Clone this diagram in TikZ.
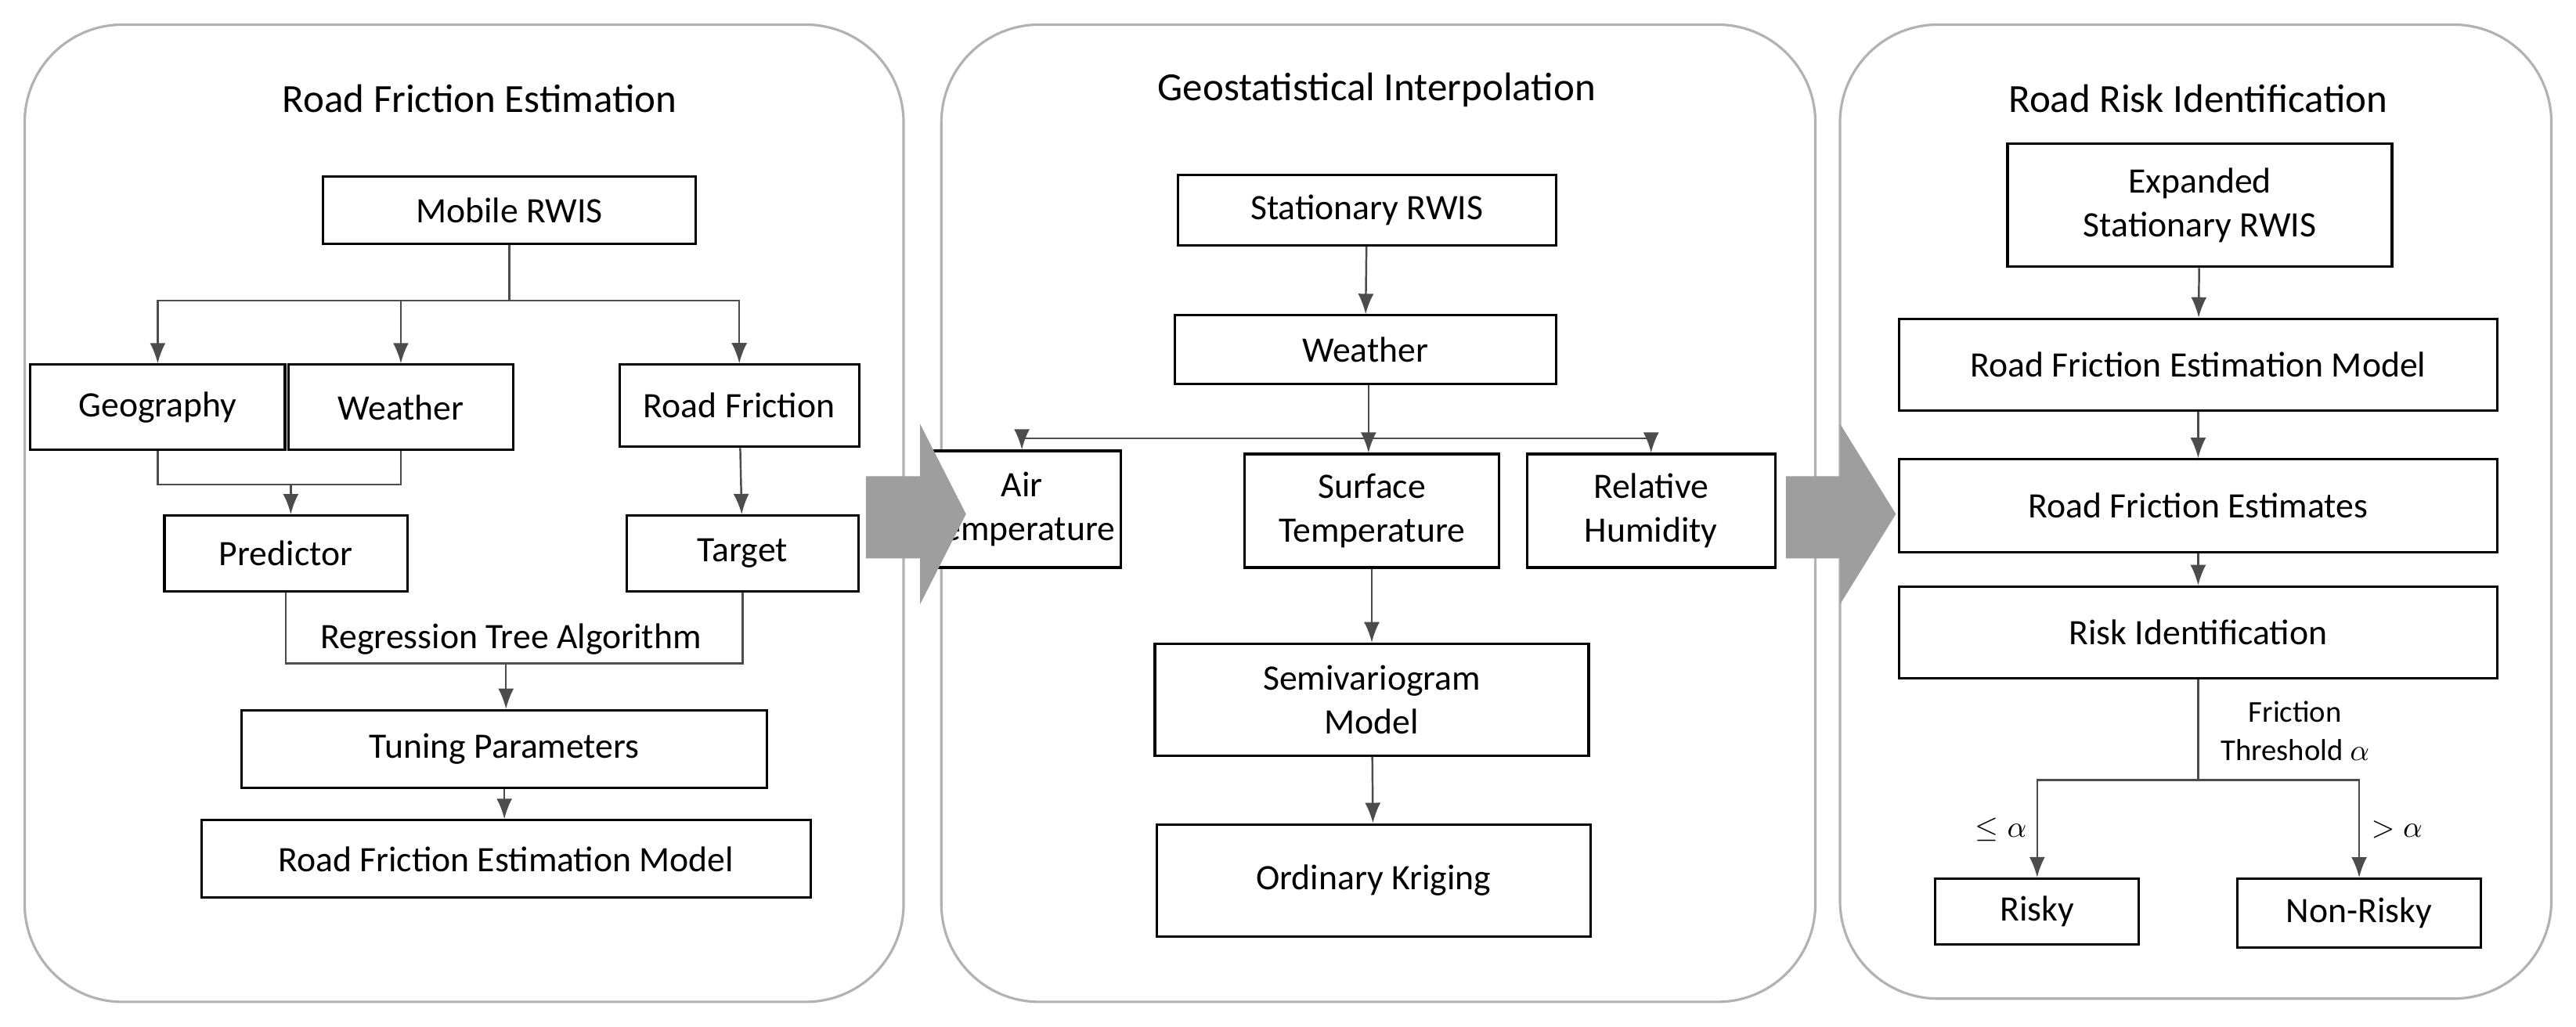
\documentclass[tikz,border=0pt]{standalone}
\usepackage{fontspec}
\setmainfont{Carlito}
\usetikzlibrary{positioning,calc,arrows.meta}

\tikzset{
  box/.style={draw=black, line width=0.9pt, fill=white, align=center, inner sep=2pt},
  panel/.style={draw=black!30, line width=0.9pt, rounded corners=1.25cm},
  title/.style={font=\fontsize{14.5}{17}\selectfont},
  link/.style={draw=black!70, line width=0.7pt},
  arr/.style={link, -{Latex[length=2.6mm,width=2mm]}},
  bigarrow/.style={fill=black!38}
}

\begin{document}
\begin{tikzpicture}[x=0.02098cm, y=-0.02098cm, font=\fontsize{13}{16}\selectfont]
  \useasboundingbox (0,0) rectangle (1568,625);

  % Panels
  \draw[panel] (15,15) rectangle (550,610);
  \draw[panel] (573,15) rectangle (1105,610);
  \draw[panel] (1120,15) rectangle (1553,608);

  \node[title] (t1) at (292,60) {Road Friction Estimation};
  \node[title] (t2) at (838,55) {Geostatistical Interpolation};
  \node[title] (t3) at (1338,60) {Road Risk Identification};

  % Road friction estimation
  \node[box, minimum width=4.76cm, minimum height=0.86cm] (mob) at (310,128) {Mobile RWIS};
  \node[box, minimum width=3.25cm, minimum height=1.09cm] (geo) at (96,248) {Geography};
  \node[box, minimum width=2.87cm, minimum height=1.09cm] (wea) at (244,248) {Weather};
  \node[box, minimum width=3.06cm, minimum height=1.05cm] (rf) at (450,247) {Road Friction};
  \node[box, minimum width=3.10cm, minimum height=0.97cm] (pred) at (174,337) {Predictor};
  \node[box, minimum width=2.96cm, minimum height=0.97cm] (tar) at (452,337) {Target};
  \node[box, minimum width=6.71cm, minimum height=0.99cm] (tun) at (307,456) {Tuning Parameters};
  \node[box, minimum width=7.78cm, minimum height=0.99cm] (rfm) at (308,523) {Road Friction Estimation Model};

  \coordinate (b1) at (310,183);
  \coordinate (j1) at (177,295);
  \coordinate (j2) at (308,404);
  \draw[link] (mob) -- (b1);
  \draw[arr] (b1) -| (geo.north);
  \draw[arr] (b1) -| (wea.north);
  \draw[arr] (b1) -| (rf.north);
  \draw[link] (geo.south) |- (j1) -| (wea.south);
  \draw[arr] (j1) -- (j1 |- pred.north);
  \draw[arr] (rf) -- (tar);
  \draw[link] (pred.south) |- (j2) -| (tar.south);
  \node (reg) at (311,389) {Regression Tree Algorithm};
  \draw[arr] (j2) -- (j2 |- tun.north);
  \draw[arr] (tun) -- (tun |- rfm.north);

  % Geostatistical interpolation
  \node[box, minimum width=4.83cm, minimum height=0.90cm] (stat) at (832,128) {Stationary RWIS};
  \node[box, minimum width=4.87cm, minimum height=0.88cm] (wea2) at (831,213) {Weather};
  \node[box, minimum width=2.45cm, minimum height=1.49cm] (air) at (622,310) {Air\\Temperature};
  \node[box, minimum width=3.25cm, minimum height=1.45cm] (sur) at (835,311) {Surface\\Temperature};
  \node[box, minimum width=3.17cm, minimum height=1.45cm] (hum) at (1005,311) {Relative\\Humidity};
  \node[box, minimum width=5.54cm, minimum height=1.43cm] (semi) at (835,426) {Semivariogram\\Model};
  \node[box, minimum width=5.54cm, minimum height=1.43cm] (krig) at (836,536) {Ordinary Kriging};

  \coordinate (j3) at (833,267);
  \draw[arr] (stat) -- (wea2);
  \draw[link] (wea2.south -| j3) -- (j3);
  \draw[arr] (j3) -| (air.north);
  \draw[arr] (j3) -| (hum.north);
  \draw[arr] (j3) -- (j3 |- sur.north);
  \draw[arr] (sur) -- (semi);
  \draw[arr] (semi) -- (krig);

  % Road risk identification
  \node[box, minimum width=4.91cm, minimum height=1.57cm] (exp) at (1339,125) {Expanded\\Stationary RWIS};
  \node[box, minimum width=7.64cm, minimum height=1.17cm] (rfm2) at (1338,222) {Road Friction Estimation Model};
  \node[box, minimum width=7.64cm, minimum height=1.19cm] (est) at (1338,308) {Road Friction Estimates};
  \node[box, minimum width=7.64cm, minimum height=1.17cm] (risk) at (1338,385) {Risk Identification};
  \node[box, minimum width=2.60cm, minimum height=0.84cm] (risky) at (1240,555) {Risky};
  \node[box, minimum width=3.11cm, minimum height=0.88cm] (nonr) at (1436,556) {Non-Risky};

  \coordinate (j4) at (1338,475);
  \draw[arr] (exp) -- (rfm2);
  \draw[arr] (rfm2) -- (est);
  \draw[arr] (est) -- (risk);
  \draw[link] (risk) -- (j4);
  \draw[arr] (j4) -| (risky.north);
  \draw[arr] (j4) -| (nonr.north);
  \node[align=center, font=\fontsize{11}{14}\selectfont] (thr) at (1397,445) {Friction\\Threshold $\alpha$};
  \node[font=\fontsize{11}{14}\selectfont] (le) at (1218,505) {$\leq\alpha$};
  \node[font=\fontsize{11}{14}\selectfont] (gt) at (1459,505) {$>\alpha$};

  % Big arrows
  \fill[bigarrow] (527,290) -- (560,290) -- (560,258) -- (588,313) -- (560,368) -- (560,340) -- (527,340) -- cycle;
  \fill[bigarrow] (1087,290) -- (1120,290) -- (1120,258) -- (1154,313) -- (1120,368) -- (1120,340) -- (1087,340) -- cycle;
\end{tikzpicture}
\end{document}
